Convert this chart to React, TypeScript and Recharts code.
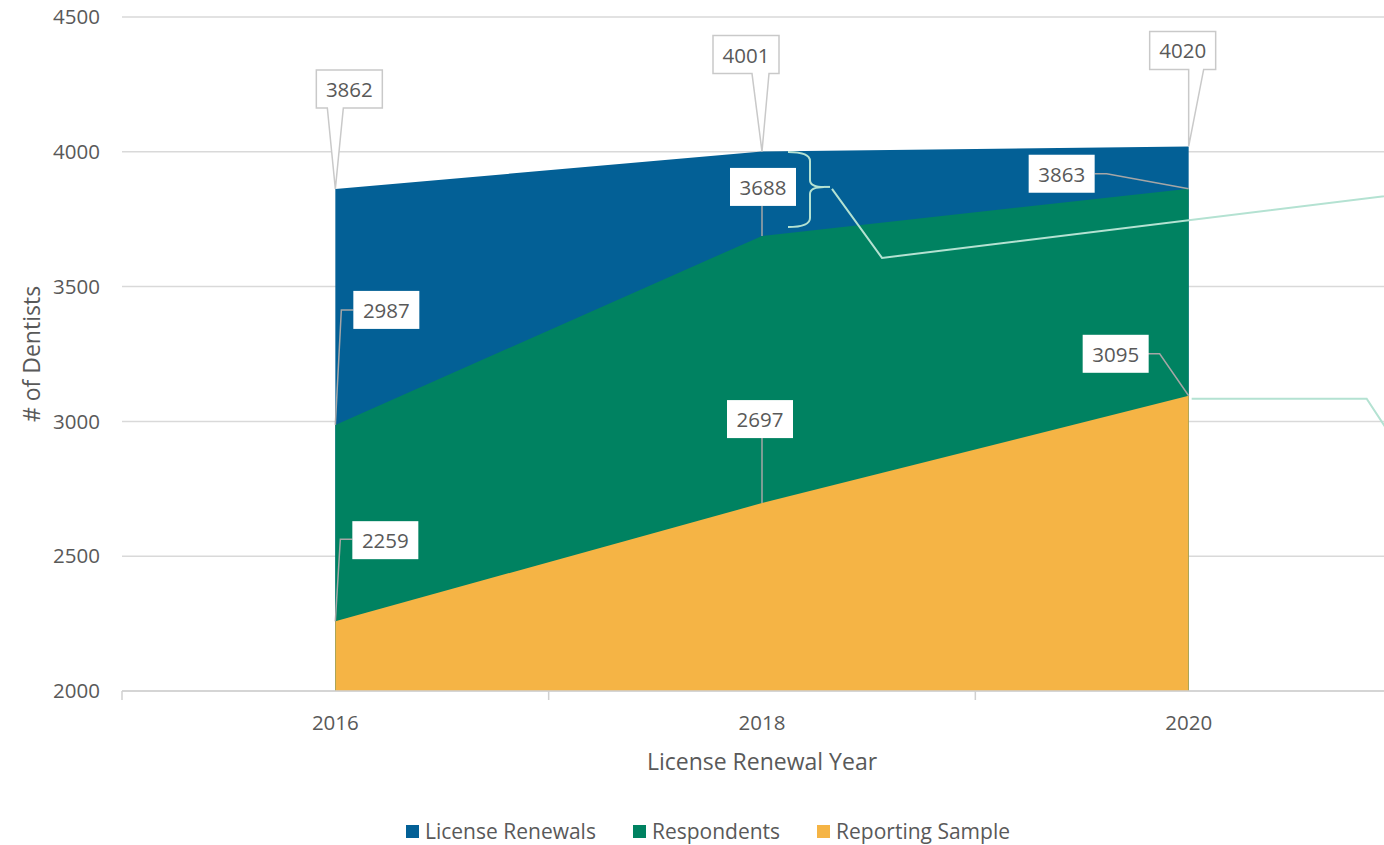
import React from 'react'
import { AreaChart, Area, XAxis, YAxis, CartesianGrid, Legend, LabelList, Label } from 'recharts'

const years = [2016, 2018, 2020]
const licenseRenewals = [3862, 4001, 4020]
const respondents = [2987, 3688, 3863]
const reportingSample = [2259, 2697, 3095]
const yTicks = [2000, 2500, 3000, 3500, 4000, 4500]
const xTicks = [2015, 2016, 2017, 2018, 2019, 2020, 2021]
const xLabelYears = [2016, 2018, 2020]

const data = years.map((year, i) => ({
  year,
  renewals: licenseRenewals[i],
  respondents: respondents[i],
  sample: reportingSample[i],
}))

const FONT = '"Open Sans", sans-serif'
const TEXT = '#595959'
const TEAL = '#b4e2d2'
const BOX_W = 66
const BOX_H = 38

const series = [
  { key: 'renewals', name: 'License Renewals', color: '#036096' },
  { key: 'respondents', name: 'Respondents', color: '#008261' },
  { key: 'sample', name: 'Reporting Sample', color: '#f5b445' },
]

// callout placement, relative to the data point
const renewalBoxes = [
  { bx: -19, by: -119, wl: -8, wr: 8 },
  { bx: -49, by: -116, wl: -10, wr: 7 },
  { bx: -39, by: -115, wl: 0, wr: 15 },
]
const respondentBoxes = [
  { bx: 18, by: -134, leader: [[18, -115], [6, -115]] },
  { bx: -32, by: -68, leader: [[0, -30]] },
  { bx: -160, by: -34, leader: [[-94, -15], [-82, -15]] },
]
const sampleBoxes = [
  { bx: 17, by: -100, leader: [[17, -82], [5, -82]] },
  { bx: -35, by: -103, leader: [[0, -66]] },
  { bx: -106, by: -61, leader: [[-41, -42], [-29, -42]] },
]

function pointOf(props: any, values: number[]) {
  const vb = props.viewBox || {}
  const x = props.x ?? vb.x
  const y = props.y ?? vb.y
  const index = typeof props.index === 'number' ? props.index : values.indexOf(Number(props.value))
  return { x: Number(x), y: Number(y), index }
}

function boxText(cx: number, cy: number, value: any) {
  return (
    <text x={cx} y={cy} textAnchor="middle" dominantBaseline="central" fill={TEXT} fontSize={20.5} fontFamily={FONT}>
      {value}
    </text>
  )
}

function RenewalCallout(props: any) {
  const { x, y, index } = pointOf(props, licenseRenewals)
  const b = renewalBoxes[index]
  if (!b || isNaN(x)) return null
  const l = x + b.bx
  const t = y + b.by
  const r = l + BOX_W
  const btm = t + BOX_H
  const d = `M${l},${t} H${r} V${btm} H${x + b.wr} L${x},${y} L${x + b.wl},${btm} H${l} Z`
  return (
    <g>
      <path d={d} fill="#fff" stroke="#c9c9c9" strokeWidth={1.5} />
      {boxText(l + BOX_W / 2, t + BOX_H / 2, props.value)}
    </g>
  )
}

function leaderCallout(props: any, values: number[], boxes: any[], extra?: (x: number, y: number, i: number) => any) {
  const { x, y, index } = pointOf(props, values)
  const b = boxes[index]
  if (!b || isNaN(x)) return null
  const l = x + b.bx
  const t = y + b.by
  const pts = [...b.leader.map((p: number[]) => `${x + p[0]},${y + p[1]}`), `${x},${y}`]
  return (
    <g>
      {extra ? extra(x, y, index) : null}
      <polyline points={pts.join(' ')} fill="none" stroke="#a6a6a6" strokeWidth={1.5} />
      <rect x={l} y={t} width={BOX_W} height={BOX_H} fill="#fff" />
      {boxText(l + BOX_W / 2, t + BOX_H / 2, props.value)}
    </g>
  )
}

// stray teal leader lines left over in the original chart
function bracketLines(x: number, y: number, i: number) {
  if (i !== 1) return null
  const p = (dx: number, dy: number) => `${x + dx},${y + dy}`
  return (
    <g fill="none" stroke={TEAL} strokeWidth={2}>
      <path d={`M${p(26, -84)} Q${p(48, -84)} ${p(48, -75)} L${p(48, -56)} Q${p(48, -49)} ${p(62, -49)} Q${p(48, -49)} ${p(48, -42)} L${p(48, -18)} Q${p(48, -9)} ${p(26, -9)}`} />
      <path d={`M${p(62, -49)} L${p(68, -49)}`} />
      <path d={`M${p(70, -47)} L${p(120, 22)} L${p(658, -44)}`} />
    </g>
  )
}

function sampleTail(x: number, y: number, i: number) {
  if (i !== 2) return null
  const p = (dx: number, dy: number) => `${x + dx},${y + dy}`
  return <path d={`M${p(3, 3)} L${p(178, 3)} L${p(205, 44)}`} fill="none" stroke={TEAL} strokeWidth={2} />
}

function XTick(props: any) {
  const { x, y, payload } = props
  if (xLabelYears.includes(payload.value)) {
    return (
      <text x={x} y={y + 31} textAnchor="middle" dominantBaseline="central" fill={TEXT} fontSize={20.5} fontFamily={FONT}>
        {payload.value}
      </text>
    )
  }
  return <line x1={x} y1={y} x2={x} y2={y + 9} stroke="#d0d0d0" strokeWidth={1.5} />
}

function LegendRow() {
  return (
    <div style={{ height: 28, display: 'flex', justifyContent: 'center', alignItems: 'center', gap: 37, paddingLeft: 14, fontFamily: FONT, fontSize: 21, color: TEXT }}>
      {series.map((s) => (
        <span key={s.key} style={{ display: 'flex', alignItems: 'center' }}>
          <span style={{ width: 13, height: 13, background: s.color, marginRight: 6, display: 'inline-block' }} />
          {s.name}
        </span>
      ))}
    </div>
  )
}

export default function App() {
  return (
    <div style={{ position: 'fixed', left: 0, top: 0, width: 1384, height: 845, overflow: 'hidden', background: '#fff' }}>
      <AreaChart width={1420} height={845} data={data} margin={{ top: 17, right: 18, bottom: 0, left: 0 }}>
        <CartesianGrid vertical={false} stroke="#d9d9d9" strokeWidth={1.5} />
        <XAxis
          dataKey="year"
          type="number"
          domain={[2015, 2021]}
          ticks={xTicks}
          interval={0}
          tickSize={0}
          tickMargin={0}
          height={126}
          axisLine={{ stroke: '#d0d0d0', strokeWidth: 1.5 }}
          tick={(p: any) => <XTick {...p} />}
        >
          <Label
            content={(p: any) => {
              const vb = p.viewBox
              return (
                <text x={vb.x + vb.width / 2} y={vb.y + 70} textAnchor="middle" dominantBaseline="central" fill={TEXT} fontSize={23} fontFamily={FONT}>
                  License Renewal Year
                </text>
              )
            }}
          />
        </XAxis>
        <YAxis
          type="number"
          domain={[2000, 4500]}
          ticks={yTicks}
          interval={0}
          width={122}
          axisLine={false}
          tickLine={false}
          tickMargin={16}
          tick={{ fill: TEXT, fontSize: 20.5, fontFamily: FONT }}
        >
          <Label
            content={(p: any) => {
              const vb = p.viewBox
              const cy = vb.y + vb.height / 2
              return (
                <text x={31} y={cy} transform={`rotate(-90 31 ${cy})`} textAnchor="middle" dominantBaseline="central" fill={TEXT} fontSize={23} fontFamily={FONT}>
                  # of Dentists
                </text>
              )
            }}
          />
        </YAxis>
        <Legend verticalAlign="bottom" content={() => <LegendRow />} />
        <Area type="linear" dataKey="renewals" name="License Renewals" stroke="none" fill={series[0].color} fillOpacity={1} dot={false} activeDot={false} isAnimationActive={false}>
          <LabelList dataKey="renewals" content={(p: any) => <RenewalCallout {...p} />} />
        </Area>
        <Area type="linear" dataKey="respondents" name="Respondents" stroke="none" fill={series[1].color} fillOpacity={1} dot={false} activeDot={false} isAnimationActive={false}>
          <LabelList dataKey="respondents" content={(p: any) => leaderCallout(p, respondents, respondentBoxes, bracketLines)} />
        </Area>
        <Area type="linear" dataKey="sample" name="Reporting Sample" stroke="none" fill={series[2].color} fillOpacity={1} dot={false} activeDot={false} isAnimationActive={false}>
          <LabelList dataKey="sample" content={(p: any) => leaderCallout(p, reportingSample, sampleBoxes, sampleTail)} />
        </Area>
      </AreaChart>
    </div>
  )
}
